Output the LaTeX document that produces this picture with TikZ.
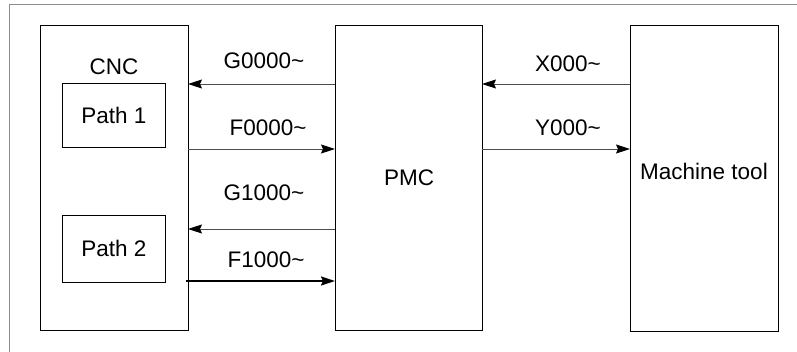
\documentclass[tikz,border=0pt]{standalone}
\usepackage{fontspec}
\setmainfont{Liberation Sans}
\usetikzlibrary{arrows.meta}
\begin{document}
\begin{tikzpicture}[x=1pt,y=-1pt,
  block/.style={draw=black,line width=1.1pt,inner sep=0pt,anchor=north west},
  lbl/.style={font=\fontsize{22.5}{25}\selectfont,inner sep=0pt},
  tip/.style={-{Stealth[length=14pt,width=9pt,inset=2pt,fill=black,color=black]}},
  sig/.style={draw=black!70,line width=0.9pt,tip},
  sigbold/.style={draw=black,line width=1.7pt,tip}]
\useasboundingbox (0,0) rectangle (797,352);
% outer frame (right and bottom sides lie beyond the page)
\draw[black!45,line width=1pt] (9,360) -- (9,5) -- (805,5);
% main blocks
\node[block,minimum width=148pt,minimum height=305pt] (cnc) at (40,25) {};
\node[block,minimum width=147pt,minimum height=305pt] (pmc) at (335,25) {};
\node[block,minimum width=148pt,minimum height=306pt] (mt) at (630,25) {};
\node[block,line width=0.8pt,minimum width=103pt,minimum height=64pt] (p1) at (62,83) {};
\node[block,line width=0.8pt,minimum width=103pt,minimum height=67pt] (p2) at (62,215) {};
% block texts
\node[lbl] (cnct) at (114,67) {CNC};
\node[lbl] (p1t) at (p1.center) {Path 1};
\node[lbl] (p2t) at (p2.center) {Path 2};
\node[lbl] (pmct) at (pmc.center) {PMC};
\node[lbl] (mtt) at (704,171) {Machine tool};
% connector end points on the block edges
\coordinate (pg0) at (335,84);  \coordinate (cg0) at (188,84);
\coordinate (cf0) at (188,149); \coordinate (pf0) at (335,149);
\coordinate (pg1) at (335,229); \coordinate (cg1) at (188,229);
\coordinate (cf1) at (186,281); \coordinate (pf1) at (335,281);
\coordinate (mx) at (630,84);   \coordinate (px) at (482,84);
\coordinate (py) at (482,149);  \coordinate (my) at (630,149);
% signals
\draw[sig] (pg0) -- (cg0);
\draw[sig] (cf0) -- (pf0);
\draw[sig] (pg1) -- (cg1);
\draw[sigbold] (cf1) -- (pf1);
\draw[sig] (mx) -- (px);
\draw[sig] (py) -- (my);
% signal labels
\node[lbl] (lg0) at (264,61) {G0000\textasciitilde};
\node[lbl] (lf0) at (268,128) {F0000\textasciitilde};
\node[lbl] (lg1) at (264,193) {G1000\textasciitilde};
\node[lbl] (lf1) at (266,260) {F1000\textasciitilde};
\node[lbl] (lx) at (568,64) {X000\textasciitilde};
\node[lbl] (ly) at (568,128) {Y000\textasciitilde};
\end{tikzpicture}
\end{document}
